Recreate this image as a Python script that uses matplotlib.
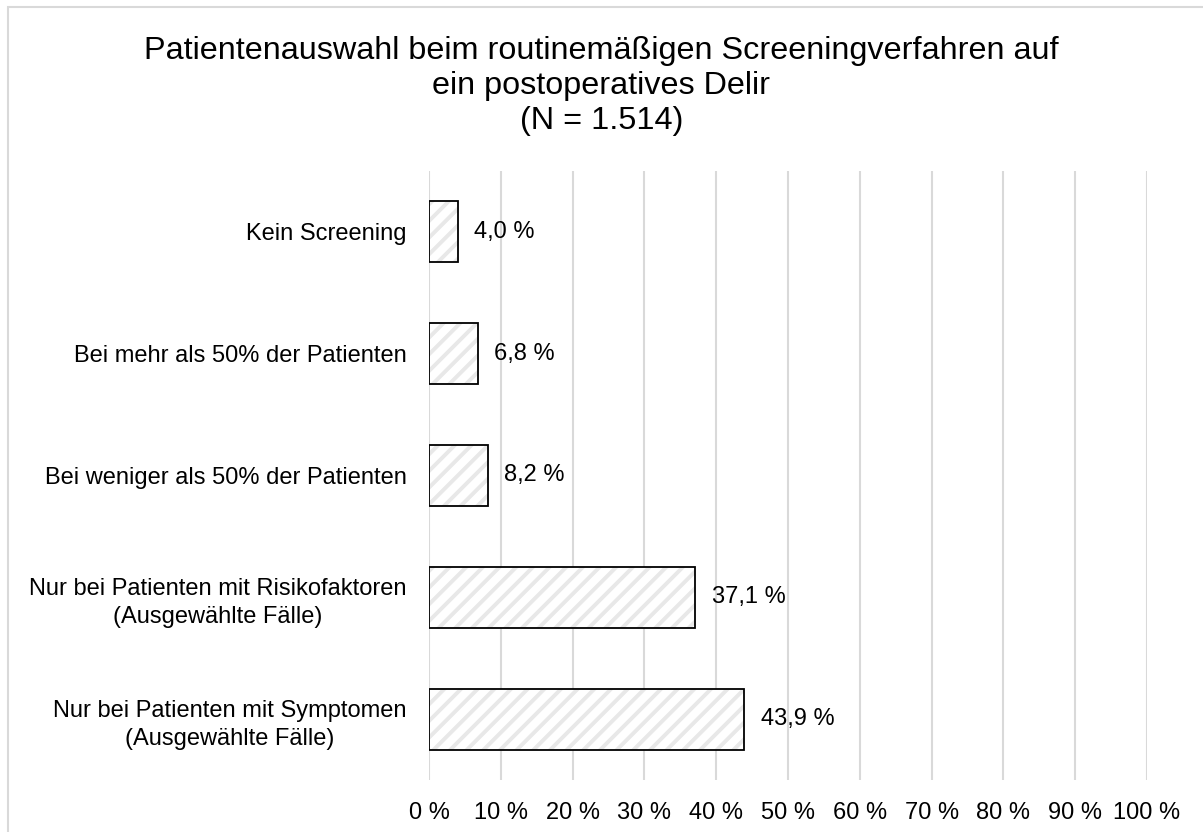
import matplotlib.pyplot as plt
from matplotlib.patches import Rectangle

plt.rcParams['font.family'] = ['Liberation Sans', 'DejaVu Sans']
plt.rcParams['hatch.linewidth'] = 2.8

# Data
categories = ["Kein Screening",
              "Bei mehr als 50% der Patienten",
              "Bei weniger als 50% der Patienten",
              "Nur bei Patienten mit Risikofaktoren\n(Ausgewählte Fälle)",
              "Nur bei Patienten mit Symptomen\n(Ausgewählte Fälle)"]
values = [4.0, 6.8, 8.2, 37.1, 43.9]
ticks = list(range(0, 101, 10))

fig = plt.figure(figsize=(12.03, 8.32), dpi=100)
ax = fig.add_axes([429 / 1203, 1 - 780 / 832, (1147 - 429) / 1203, (780 - 171) / 832])

# outer border
fig.patches.append(Rectangle((8 / 1203, -0.01), 1.0, 1 - 7 / 832 + 0.01,
                             transform=fig.transFigure, fill=False,
                             edgecolor="#d9d9d9", linewidth=1.5))

ypos = list(range(len(categories)))
ax.barh(ypos, values, height=0.5, color="white", edgecolor="#e8e8e8",
        hatch="//", linewidth=0, zorder=2)
ax.barh(ypos, values, height=0.5, color="none", edgecolor="black",
        linewidth=1.3, zorder=3)

for y, v in zip(ypos, values):
    ax.text(v + 2.3, y, f"{v:.1f} %".replace(".", ","), va="center",
            ha="left", fontsize=17)

ax.set_xlim(0, 100)
ax.set_ylim(len(categories) - 0.5, -0.5)
ax.set_xticks(ticks)
ax.set_xticklabels([f"{t} %" for t in ticks], fontsize=17)
ax.set_yticks(ypos)
ax.set_yticklabels(categories, fontsize=17, ha="right")
ax.tick_params(axis="both", length=0)
ax.tick_params(axis="x", pad=16)
ax.tick_params(axis="y", pad=16)
for lab in ax.get_yticklabels():
    lab.set_multialignment("center")
    lab.set_linespacing(1.35)
ax.grid(axis="x", color="#d9d9d9", linewidth=1.5, zorder=0)
ax.set_axisbelow(True)
for s in ax.spines.values():
    s.set_visible(False)

fig.text(0.5, 1 - 36 / 832, "Patientenauswahl beim routinemäßigen Screeningverfahren auf\n"
         "ein postoperatives Delir\n(N = 1.514)", ha="center", va="top",
         fontsize=23.3, linespacing=1.21)

fig.savefig("out.png", dpi=100)
